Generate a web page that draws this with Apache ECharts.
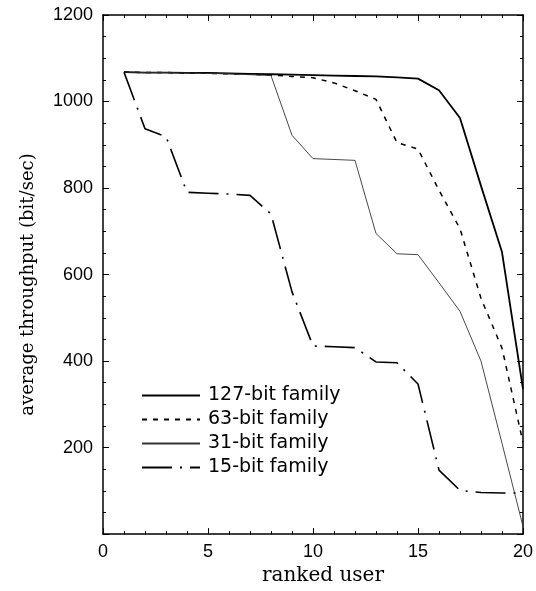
<!DOCTYPE html>
<html>
<head>
<meta charset="utf-8">
<script src="https://cdn.jsdelivr.net/npm/echarts@6/dist/echarts.min.js"></script>
<style>
  html, body { margin: 0; padding: 0; background: #fff; }
  #chart { width: 536px; height: 591px; }
</style>
</head>
<body>
<div id="chart"></div>
<script>
// ranked users 1..20
var users = [1, 2, 3, 4, 5, 6, 7, 8, 9, 10, 11, 12, 13, 14, 15, 16, 17, 18, 19, 20];

var fam127 = [1068, 1067, 1067, 1066, 1066, 1065, 1064, 1063, 1062, 1061, 1060, 1059, 1058, 1056, 1053, 1026, 962, 805, 652, 335];
var fam63 = [1068, 1067, 1067, 1066, 1065, 1064, 1063, 1061, 1058, 1055, 1043, 1025, 1005, 905, 890, 795, 706, 545, 430, 212];
var fam31 = [1068, 1067, 1067, 1066, 1065, 1064, 1062, 1060, 922, 868, 866, 864, 695, 648, 646, 581, 515, 400, 210, 18];
var fam15 = [1068, 937, 919, 790, 788, 786, 783, 740, 560, 435, 433, 431, 398, 396, 347, 148, 101, 96, 95, 95];

var seriesNames = ['127-bit family', '63-bit family', '31-bit family', '15-bit family'];

var xTicks = [0, 5, 10, 15, 20];
var yTicks = [200, 400, 600, 800, 1000, 1200];

function pairs(vals) {
  return users.map(function (u, i) { return [u, vals[i]]; });
}

var chart = echarts.init(document.getElementById('chart'));

var tickFont = { fontFamily: '"Liberation Sans", Arial, sans-serif', fontSize: 18, color: '#000' };

var boxAxis = {
  axisLine: { show: true, onZero: false, lineStyle: { color: '#000', width: 1.5 } },
  axisTick: { show: true, inside: true, length: 6, lineStyle: { color: '#000', width: 1 } },
  minorTick: { show: true, length: 3, lineStyle: { color: '#000', width: 1 } },
  splitLine: { show: false },
  minorSplitLine: { show: false }
};

chart.setOption({
  animation: false,
  backgroundColor: '#fff',
  grid: { left: 103, right: 12, top: 15, bottom: 53 },
  legend: {
    orient: 'vertical',
    left: 141,
    top: 386,
    padding: 0,
    itemWidth: 58,
    itemHeight: 14,
    itemGap: 5,
    data: seriesNames,
    itemStyle: { opacity: 0 },
    textStyle: { fontFamily: '"DejaVu Sans", sans-serif', fontSize: 19, color: '#000', padding: [0, 0, 0, 3] }
  },
  xAxis: [
    Object.assign({}, boxAxis, {
      type: 'value', min: xTicks[0], max: xTicks[xTicks.length - 1], interval: 5,
      minorTick: Object.assign({}, boxAxis.minorTick, { splitNumber: 5 }),
      axisLabel: Object.assign({}, tickFont, { margin: 9 }),
      name: 'ranked user',
      nameLocation: 'middle',
      nameGap: 30,
      nameTextStyle: { fontFamily: '"DejaVu Serif", serif', fontSize: 20, color: '#000', padding: [0, 0, 0, 20] }
    }),
    Object.assign({}, boxAxis, {
      type: 'value', position: 'top', min: xTicks[0], max: xTicks[xTicks.length - 1], interval: 5,
      minorTick: Object.assign({}, boxAxis.minorTick, { splitNumber: 5 }),
      axisLabel: { show: false }
    })
  ],
  yAxis: [
    Object.assign({}, boxAxis, {
      type: 'value', min: 0, max: yTicks[yTicks.length - 1], interval: 200,
      minorTick: Object.assign({}, boxAxis.minorTick, { splitNumber: 4 }),
      axisLabel: Object.assign({}, tickFont, {
        margin: 10,
        formatter: function (v) { return yTicks.indexOf(v) >= 0 ? String(v) : ''; }
      }),
      name: 'average throughput (bit/sec)',
      nameLocation: 'middle',
      nameGap: 66,
      nameTextStyle: { fontFamily: '"DejaVu Serif", serif', fontSize: 18, color: '#000', padding: [0, 20, 0, 0] }
    }),
    Object.assign({}, boxAxis, {
      type: 'value', position: 'right', min: 0, max: yTicks[yTicks.length - 1], interval: 200,
      minorTick: Object.assign({}, boxAxis.minorTick, { splitNumber: 4 }),
      axisLabel: { show: false }
    })
  ],
  series: [
    {
      name: seriesNames[0], type: 'line', symbol: 'none', data: pairs(fam127),
      lineStyle: { color: '#000', width: 1.8, type: 'solid' }, itemStyle: { color: '#000' }
    },
    {
      name: seriesNames[1], type: 'line', symbol: 'none', data: pairs(fam63),
      lineStyle: { color: '#000', width: 1.5, type: [5, 6] }, itemStyle: { color: '#000' }
    },
    {
      name: seriesNames[2], type: 'line', symbol: 'none', data: pairs(fam31),
      lineStyle: { color: '#333', width: 0.9, type: 'solid' }, itemStyle: { color: '#333' }
    },
    {
      name: seriesNames[3], type: 'line', symbol: 'none', data: pairs(fam15),
      lineStyle: { color: '#000', width: 1.6, type: [30, 8, 2, 8] }, itemStyle: { color: '#000' }
    }
  ]
});
</script>
</body>
</html>
